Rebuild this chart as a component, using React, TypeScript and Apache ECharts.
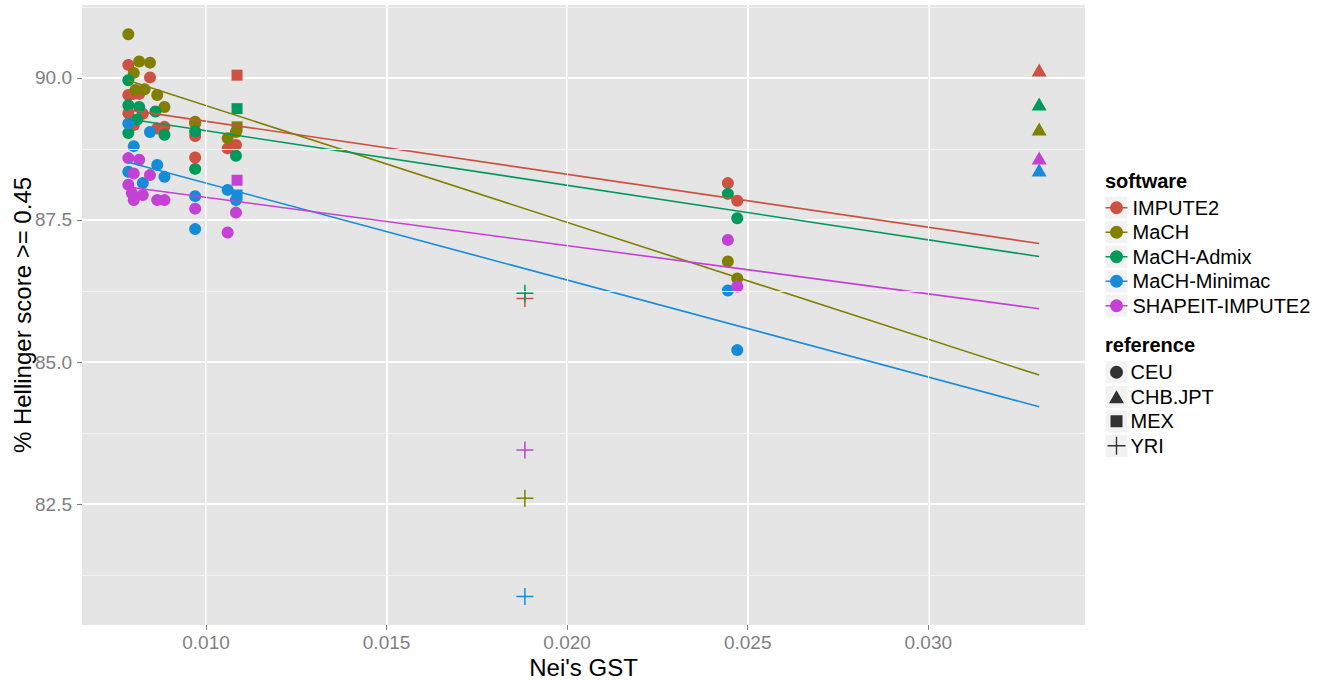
import React, { useEffect, useRef } from "react";
import * as echarts from "echarts";

const SOFTWARE = ["IMPUTE2", "MaCH", "MaCH-Admix", "MaCH-Minimac", "SHAPEIT-IMPUTE2"];
const REFERENCES = ["CEU", "CHB.JPT", "MEX", "YRI"];

// [Nei's GST, % Hellinger score >= 0.45, reference index (0 CEU, 1 CHB.JPT, 2 MEX, 3 YRI)]
const impute2 = [
  [0.00785, 90.23, 0], [0.00785, 89.7, 0], [0.008, 89.72, 0], [0.00815, 89.72, 0],
  [0.00785, 89.38, 0], [0.00825, 89.37, 0], [0.008, 89.17, 0], [0.00845, 90.01, 0],
  [0.00865, 89.11, 0], [0.00885, 89.14, 0], [0.0097, 88.98, 0], [0.0097, 88.6, 0],
  [0.0106, 88.76, 0], [0.01083, 88.82, 0], [0.02445, 88.15, 0], [0.02471, 87.84, 0],
  [0.01086, 90.05, 2], [0.01883, 86.12, 3], [0.03307, 90.14, 1],
];
const mach = [
  [0.00785, 90.77, 0], [0.00815, 90.29, 0], [0.00845, 90.27, 0], [0.008, 90.09, 0],
  [0.00805, 89.79, 0], [0.0083, 89.8, 0], [0.00865, 89.7, 0], [0.00885, 89.49, 0],
  [0.0097, 89.23, 0], [0.0097, 89.2, 0], [0.0106, 88.94, 0], [0.01083, 89.05, 0],
  [0.02445, 86.77, 0], [0.02471, 86.47, 0],
  [0.01086, 89.14, 2], [0.01883, 82.6, 3], [0.03307, 89.1, 1],
];
const machAdmix = [
  [0.00785, 89.96, 0], [0.00785, 89.52, 0], [0.00815, 89.49, 0], [0.0086, 89.41, 0],
  [0.0081, 89.27, 0], [0.00785, 89.03, 0], [0.00885, 89.0, 0], [0.0097, 89.06, 0],
  [0.0097, 88.4, 0], [0.01083, 88.63, 0], [0.02445, 87.96, 0], [0.02471, 87.53, 0],
  [0.01086, 89.46, 2], [0.01883, 86.21, 3], [0.03307, 89.54, 1],
];
const machMinimac = [
  [0.00785, 89.2, 0], [0.00845, 89.05, 0], [0.008, 88.8, 0], [0.00865, 88.47, 0],
  [0.00785, 88.35, 0], [0.00885, 88.26, 0], [0.00825, 88.15, 0], [0.0097, 87.92, 0],
  [0.0097, 87.34, 0], [0.0106, 88.03, 0], [0.01083, 87.85, 0], [0.02445, 86.26, 0],
  [0.02471, 85.21, 0],
  [0.01086, 87.94, 2], [0.01883, 80.87, 3], [0.03307, 88.38, 1],
];
const shapeitImpute2 = [
  [0.00785, 88.59, 0], [0.00815, 88.56, 0], [0.008, 88.32, 0], [0.00845, 88.29, 0],
  [0.00785, 88.12, 0], [0.00795, 87.97, 0], [0.00825, 87.94, 0], [0.008, 87.85, 0],
  [0.00865, 87.85, 0], [0.00885, 87.85, 0], [0.0097, 87.7, 0], [0.0106, 87.28, 0],
  [0.01083, 87.63, 0], [0.02445, 87.15, 0], [0.02471, 86.33, 0],
  [0.01086, 88.2, 2], [0.01883, 83.45, 3], [0.03307, 88.59, 1],
];
const SERIES_DATA = [impute2, mach, machAdmix, machMinimac, shapeitImpute2];

const X_TICKS = [0.01, 0.015, 0.02, 0.025, 0.03];
const Y_TICKS = [82.5, 85.0, 87.5, 90.0];
const X_MINOR = [0.0075, 0.0125, 0.0175, 0.0225, 0.0275, 0.0325];
const Y_MINOR = [81.25, 83.75, 86.25, 88.75, 91.25];

const X_MIN = 0.006567;
const X_MAX = 0.034339;
const Y_MIN = 80.37;
const Y_MAX = 91.285;

const COLORS = ["#CD5241", "#817F00", "#00995C", "#168CD9", "#C341D4"];
const FONT = "'Liberation Sans', Arial, Helvetica, sans-serif";

const PLUS = "path://M8.2,0H9.8V8.2H18V9.8H9.8V18H8.2V9.8H0V8.2H8.2Z";
const REF_SYMBOLS = ["circle", "triangle", "rect", PLUS];
const REF_SIZES: any[] = [12, [15, 13], 11, 17];
const SOFT_ICON =
  "path://M0,5.75H22V7.25H0Z M17.5,6.5A6.5,6.5 0 1 1 4.5,6.5A6.5,6.5 0 1 1 17.5,6.5Z";
// legend icons drawn in an 18x18 box (tiny corner anchors fix the box)
const ANCHORS = "M0,0h0.01v0.01h-0.01Z M18,18h-0.01v-0.01h0.01Z ";
const REF_ICONS = [
  "path://" + ANCHORS + "M15.5,9A6.5,6.5 0 1 1 2.5,9A6.5,6.5 0 1 1 15.5,9Z",
  "path://" + ANCHORS + "M9,2.5L16.5,15.5H1.5Z",
  "path://" + ANCHORS + "M3,3H15V15H3Z",
  "path://" + ANCHORS + "M8.3,0H9.7V8.3H18V9.7H9.7V18H8.3V9.7H0V8.3H8.3Z",
];

// linear fit on the CEU points, drawn across the full GST range of the data
function fitLine(pts: number[][], xmin: number, xmax: number) {
  const sub = pts.filter((p) => p[2] === 0);
  const n = sub.length;
  let sx = 0, sy = 0, sxx = 0, sxy = 0;
  for (const p of sub) {
    sx += p[0]; sy += p[1]; sxx += p[0] * p[0]; sxy += p[0] * p[1];
  }
  const b = (n * sxy - sx * sy) / (n * sxx - sx * sx);
  const a = (sy - b * sx) / n;
  return [[xmin, a + b * xmin], [xmax, a + b * xmax]];
}

export default function App() {
  const ref = useRef<HTMLDivElement>(null);
  useEffect(() => {
    if (!ref.current) return;
    const chart = echarts.init(ref.current, undefined, { renderer: "svg" });

    const allX = SERIES_DATA.flat().map((p) => p[0]);
    const dataXMin = Math.min(...allX);
    const dataXMax = Math.max(...allX);

    const series: any[] = [];
    series.push({
      type: "line",
      name: "minor-grid",
      data: [],
      z: 1,
      silent: true,
      markLine: {
        silent: true,
        symbol: ["none", "none"],
        label: { show: false },
        lineStyle: { color: "#F2F2F2", width: 1, type: "solid" },
        emphasis: { disabled: true },
        data: [
          ...X_MINOR.map((v) => ({ xAxis: v })),
          ...Y_MINOR.map((v) => ({ yAxis: v })),
        ],
      },
    });
    SOFTWARE.forEach((name, i) => {
      series.push({
        type: "scatter",
        name,
        data: SERIES_DATA[i],
        symbol: (val: number[]) => REF_SYMBOLS[val[2]],
        symbolSize: (val: number[]) => REF_SIZES[val[2]],
        itemStyle: { color: COLORS[i], opacity: 1 },
        z: 3,
      });
    });
    SOFTWARE.forEach((name, i) => {
      series.push({
        type: "line",
        name: name + " fit",
        data: fitLine(SERIES_DATA[i], dataXMin, dataXMax),
        showSymbol: false,
        symbol: "none",
        lineStyle: { color: COLORS[i], width: 1.6 },
        z: 4,
        silent: true,
      });
    });
    REFERENCES.forEach((name, i) => {
      series.push({
        type: "scatter",
        name,
        data: [],
        symbol: REF_SYMBOLS[i],
        itemStyle: { color: "#000" },
      });
    });

    const softCenters = SOFTWARE.map((_, i) => 207.7 + 24.5 * i);
    const refCenters = REFERENCES.map((_, i) => 372.3 + 24.6 * i);
    const keyRects = [...softCenters, ...refCenters].map((c) => ({
      type: "rect",
      shape: { x: 1105, y: c - 11.5, width: 23, height: 23 },
      style: { fill: "#F2F2F2", stroke: "#fff", lineWidth: 1 },
      z: 0,
      silent: true,
    }));

    const textStyle = { fontSize: 20, color: "#000", fontFamily: FONT, lineHeight: 24.5 };

    chart.setOption({
      animation: false,
      backgroundColor: "#fff",
      textStyle: { fontFamily: FONT },
      grid: {
        left: 82, right: 243, top: 5, bottom: 55,
        containLabel: false,
        outerBoundsMode: "none",
        show: true, backgroundColor: "#E5E5E5", borderWidth: 0,
      },
      xAxis: {
        type: "value",
        min: X_MIN,
        max: X_MAX,
        axisLine: { show: false },
        axisTick: { show: true, length: 5, lineStyle: { color: "#7F7F7F" }, customValues: X_TICKS },
        axisLabel: {
          customValues: X_TICKS,
          formatter: (v: number) => v.toFixed(3),
          color: "#7F7F7F",
          fontSize: 19,
          lineHeight: 19,
          margin: 8,
          fontFamily: FONT,
        },
        splitLine: { show: true, lineStyle: { color: "#fff", width: 2 } },
        name: "Nei's GST",
        nameLocation: "middle",
        nameGap: 30,
        nameMoveOverlap: false,
        nameTextStyle: { fontSize: 24, lineHeight: 24, color: "#000", fontFamily: FONT },
      },
      yAxis: {
        type: "value",
        min: Y_MIN,
        max: Y_MAX,
        axisLine: { show: false },
        axisTick: { show: true, length: 5, lineStyle: { color: "#7F7F7F" }, customValues: Y_TICKS },
        axisLabel: {
          customValues: Y_TICKS,
          formatter: (v: number) => v.toFixed(1),
          color: "#7F7F7F",
          fontSize: 19,
          margin: 10,
          fontFamily: FONT,
        },
        splitLine: { show: true, lineStyle: { color: "#fff", width: 2 } },
        name: "% Hellinger score >= 0.45",
        nameLocation: "middle",
        nameGap: 48,
        nameMoveOverlap: false,
        nameTextStyle: { fontSize: 24, color: "#000", fontFamily: FONT },
      },
      legend: [
        {
          orient: "vertical",
          left: 1105.5,
          top: 195.5,
          itemWidth: 22,
          itemHeight: 13,
          itemGap: 0,
          padding: 0,
          selectedMode: false,
          textStyle,
          data: SOFTWARE.map((n) => ({ name: n, icon: SOFT_ICON })),
        },
        {
          orient: "vertical",
          left: 1107.5,
          top: 360,
          itemWidth: 18,
          itemHeight: 18,
          itemGap: 0,
          padding: 0,
          selectedMode: false,
          textStyle,
          data: REFERENCES.map((n, i) => ({ name: n, icon: REF_ICONS[i] })),
        },
      ],
      graphic: [
        ...keyRects,
        {
          type: "text",
          left: 1105,
          top: 171,
          style: { text: "software", font: `bold 20px ${FONT}`, fill: "#000" },
        },
        {
          type: "text",
          left: 1105,
          top: 335,
          style: { text: "reference", font: `bold 20px ${FONT}`, fill: "#000" },
        },
      ],
      series,
    });
    return () => chart.dispose();
  }, []);
  return (
    <div
      ref={ref}
      style={{ position: "fixed", left: 0, top: 0, width: 1328, height: 680 }}
    />
  );
}
